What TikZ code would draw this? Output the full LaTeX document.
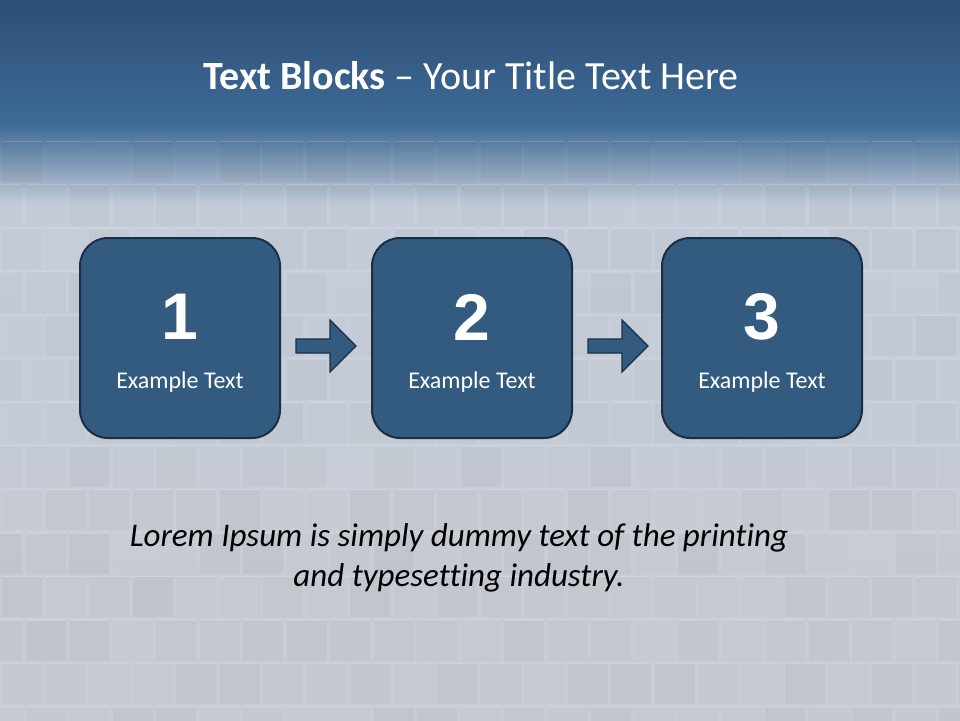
\documentclass[tikz,border=0pt]{standalone}
\usepackage{fontspec}
\setmainfont[Ligatures=NoCommon]{Carlito}
\newfontfamily\numfont{Liberation Sans}
\definecolor{topdark}{HTML}{2C4E75}
\definecolor{topmid}{HTML}{3E6B97}
\definecolor{bglight}{HTML}{C6CFDB}
\definecolor{bggrey}{HTML}{C9CCD3}
\definecolor{boxfill}{HTML}{335A7F}
\definecolor{boxedge}{HTML}{1A2F46}
\begin{document}
\begin{tikzpicture}[x=1pt,y=-1pt,
  stepbox/.style={draw=boxedge,line width=2pt,fill=boxfill,rounded corners=28pt,minimum width=200pt,minimum height=200pt,inner sep=0pt},
  numtext/.style={text=white,font=\numfont\bfseries\fontsize{66}{66}\selectfont},
  subtext/.style={text=white,font=\fontsize{24}{28}\selectfont},
  arrowshape/.style={draw=boxedge,line width=1.2pt,fill=boxfill,line join=miter}]
\useasboundingbox (0,0) rectangle (960,720);
% background
\fill[bggrey] (0,0) rectangle (960,720);
\shade[top color=bglight,bottom color=bggrey] (0,200) rectangle (960,720);
\shade[top color=topmid,bottom color=bglight] (0,124) rectangle (960,205);
\shade[top color=topdark,bottom color=topmid] (0,0) rectangle (960,125);
% faint tiles
\begin{scope}
\clip (0,140) rectangle (960,720);
\pgfmathsetseed{7}
\foreach \r in {0,...,13}{
  \foreach \c in {0,...,22}{
    \pgfmathsetmacro{\op}{0.005+0.03*rnd}
    \pgfmathsetmacro{\sh}{mod(\r,2)*20}
    \fill[black,opacity=\op] (\c*43.5-\sh+2,140+\r*43.5+2) rectangle ++(40,40);
    \draw[white,opacity=0.15,line width=0.8pt] (\c*43.5-\sh+2,140+\r*43.5+1) -- ++(40,0);
  }
}
\end{scope}
% title
\node[text=white,font=\fontsize{40}{44}\selectfont] (title) at (471,76) {\textbf{Text Blocks} -- Your Title Text Here};
% boxes
\node[stepbox] (b1) at (180,338) {};
\node[stepbox] (b2) at (472,338) {};
\node[stepbox] (b3) at (762,338) {};
\foreach \b/\n in {b1/1,b2/2,b3/3}{
  \node[numtext] (\b n) at ([yshift=21pt]\b.center) {\n};
  \node[subtext] (\b t) at ([yshift=-44pt]\b.center) {Example Text};
}
% arrows
\coordinate (a1s) at ([xshift=15pt,yshift=-8pt]b1.east);
\coordinate (a2s) at ([xshift=15pt,yshift=-8pt]b2.east);
\foreach \a in {a1s,a2s}{
  \draw[arrowshape] (\a) ++(0,-7) -- ++(34,0) -- ++(0,-19) -- ++(26,26) -- ++(-26,26) -- ++(0,-19) -- ++(-34,0) -- cycle;
}
% bottom text
\node[align=center,font=\itshape\fontsize{33}{40}\selectfont,text=black] (lorem) at (459,558)
  {Lorem Ipsum is simply dummy text of the printing\\and typesetting industry.};
\end{tikzpicture}
\end{document}
